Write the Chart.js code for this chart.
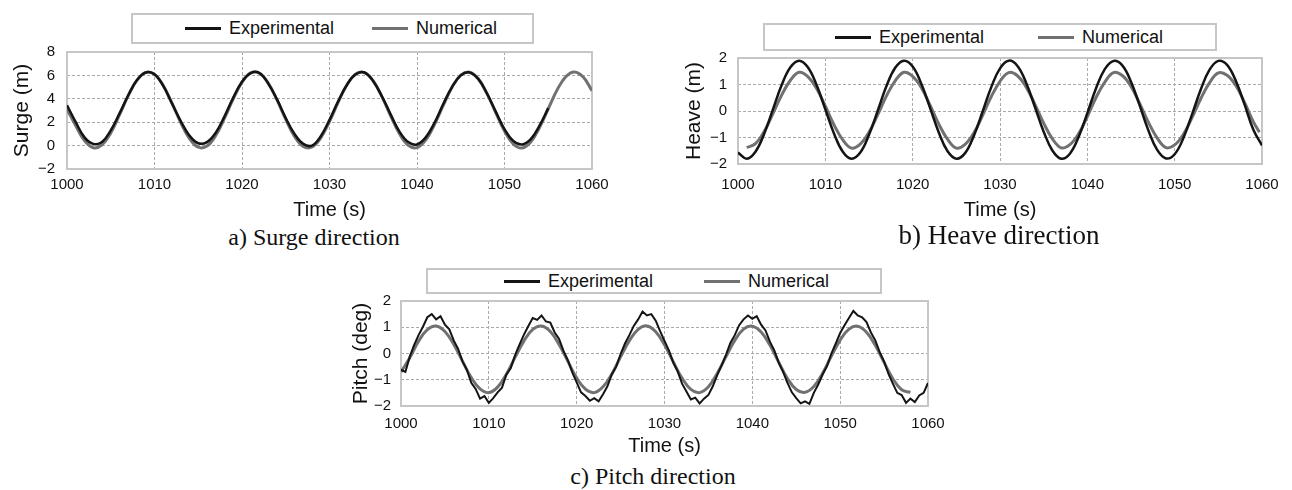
<!DOCTYPE html>
<html>
<head>
<meta charset="utf-8">
<script src="https://cdn.jsdelivr.net/npm/chart.js@4.4.1/dist/chart.umd.min.js"></script>
<style>
  body { margin: 0; background: #fff; width: 1292px; height: 490px; position: relative; overflow: hidden;
         font-family: 'Liberation Sans', Arial, sans-serif; color: #111; }
  canvas { position: absolute; }
  .legend { position: absolute; box-sizing: border-box; border: 2px solid #c6c6c6; background: #fff; font-size: 18px; }
  .legend .item { position: absolute; top: 0; bottom: 0; display: flex; align-items: center; white-space: nowrap; }
  .legend .swatch { display: inline-block; width: 36px; height: 3px; margin-right: 8px; }
  .caption { position: absolute; font-family: 'Liberation Serif', 'Times New Roman', serif; font-size: 24px;
             line-height: 24px; white-space: nowrap; transform: translateX(-50%); }
</style>
</head>
<body>
<canvas id="surgeChart" width="620" height="184" style="left:0;top:40px"></canvas>
<canvas id="heaveChart" width="630" height="184" style="left:660px;top:40px"></canvas>
<canvas id="pitchChart" width="626" height="170" style="left:330px;top:290px"></canvas>

<div class="legend" id="surgeLegend" style="left:131px;top:13px;width:403px;height:31px"></div>
<div class="legend" id="heaveLegend" style="left:763px;top:23px;width:454px;height:28px"></div>
<div class="legend" id="pitchLegend" style="left:426px;top:268px;width:456px;height:26px"></div>

<div class="caption" style="left:314px;top:225px">a) Surge direction</div>
<div class="caption" style="left:999px;top:222px;font-size:27px;line-height:27px">b) Heave direction</div>
<div class="caption" style="left:653px;top:464px">c) Pitch direction</div>

<script>
// axis ticks
const timeTicks = [1000, 1010, 1020, 1030, 1040, 1050, 1060];
const surgeTicks = [-2, 0, 2, 4, 6, 8];
const heaveTicks = [-2, -1, 0, 1, 2];
const pitchTicks = [-2, -1, 0, 1, 2];

// Surge (m), sampled every 1 s
const surgeExpStart = 1000;
const surgeExp = [3.45, 2.0, 0.7, 0.15, 0.3, 1.3, 2.75, 4.3, 5.6, 6.25,
  6.1, 5.1, 3.6, 2.1, 0.85, 0.2, 0.3, 1.1, 2.5, 4.1,
  5.45, 6.2, 6.2, 5.3, 3.95, 2.35, 1.0, 0.15, 0.0, 0.8,
  2.2, 3.8, 5.2, 6.1, 6.25, 5.5, 4.2, 2.65, 1.2, 0.3,
  0.1, 0.7, 1.95, 3.55, 5.0, 6.0, 6.25, 5.7, 4.45, 2.9,
  1.4, 0.4, 0.1, 0.55, 1.7, 3.2];
const surgeNumStart = 1000;
const surgeNum = [3.1, 1.70, 0.42, -0.18, 0.06, 1.08, 2.62, 4.27, 5.59, 6.26,
  6.09, 5.13, 3.62, 1.97, 0.60, -0.14, -0.04, 0.87, 2.34, 4.00,
  5.41, 6.21, 6.18, 5.34, 3.90, 2.24, 0.79, -0.07, -0.12, 0.66,
  2.06, 3.72, 5.20, 6.12, 6.24, 5.53, 4.17, 2.52, 1.01, 0.03,
  -0.17, 0.48, 1.80, 3.43, 4.98, 6.02, 6.28, 5.71, 4.44, 2.81,
  1.24, 0.14, -0.20, 0.31, 1.54, 3.15, 4.74, 5.89, 6.30, 5.86, 4.69];

// Heave (m), sampled every 1 s
const heaveExpStart = 1000;
const heaveExp = [-1.57, -1.80, -1.54, -0.86, 0.06, 0.98, 1.65, 1.90, 1.65, 0.98,
  0.06, -0.86, -1.54, -1.80, -1.57, -0.90, 0.01, 0.94, 1.63, 1.90,
  1.68, 1.02, 0.11, -0.82, -1.52, -1.80, -1.59, -0.94, -0.03, 0.90,
  1.61, 1.90, 1.70, 1.06, 0.15, -0.78, -1.49, -1.80, -1.61, -0.98,
  -0.08, 0.86, 1.58, 1.89, 1.72, 1.10, 0.20, -0.74, -1.47, -1.79,
  -1.63, -1.02, -0.12, 0.82, 1.56, 1.89, 1.74, 1.14, 0.25, -0.70, -1.30];
const heaveNumStart = 1001;
const heaveNum = [-1.38, -1.23, -0.77, -0.10, 0.60, 1.16, 1.46, 1.30, 0.85, 0.18,
  -0.53, -1.09, -1.40, -1.25, -0.80, -0.14, 0.57, 1.14, 1.46, 1.31,
  0.88, 0.21, -0.50, -1.07, -1.40, -1.26, -0.83, -0.17, 0.54, 1.12,
  1.45, 1.33, 0.90, 0.25, -0.46, -1.05, -1.39, -1.27, -0.86, -0.21,
  0.51, 1.09, 1.45, 1.34, 0.93, 0.28, -0.43, -1.02, -1.38, -1.28,
  -0.88, -0.24, 0.47, 1.07, 1.44, 1.35, 0.96, 0.32, -0.40];
const heaveNumEnd = { x: 1059.7, y: -0.80 };

// Pitch (deg): experimental every 0.5 s, numerical every 1 s
const pitchExpStart = 1000;
const pitchExp = [-0.62, -0.70, -0.12, 0.33, 0.70, 1.02, 1.38, 1.50, 1.30, 1.42,
  1.10, 0.92, 0.50, 0.18, -0.30, -0.62, -1.12, -1.35, -1.72, -1.62,
  -1.88, -1.70, -1.48, -1.30, -0.80, -0.55, -0.05, 0.35, 0.72, 1.05,
  1.35, 1.28, 1.45, 1.22, 1.18, 0.80, 0.55, 0.10, -0.25, -0.72,
  -1.10, -1.48, -1.62, -1.80, -1.70, -1.82, -1.55, -1.25, -0.80, -0.50,
  -0.02, 0.38, 0.70, 1.05, 1.30, 1.60, 1.45, 1.50, 1.25, 0.85,
  0.48, 0.12, -0.35, -0.68, -1.15, -1.45, -1.75, -1.68, -1.90, -1.72,
  -1.58, -1.25, -0.82, -0.45, -0.05, 0.40, 0.70, 1.08, 1.30, 1.45,
  1.32, 1.42, 1.10, 0.88, 0.45, 0.12, -0.35, -0.70, -1.12, -1.48,
  -1.70, -1.90, -1.82, -1.92, -1.50, -1.18, -0.80, -0.48, 0.00, 0.38,
  0.78, 1.08, 1.35, 1.62, 1.45, 1.38, 1.20, 0.80, 0.50, 0.05,
  -0.30, -0.78, -1.15, -1.50, -1.58, -1.88, -1.72, -1.85, -1.60, -1.50,
  -1.12];
const pitchNumStart = 1000;
const pitchNum = [-0.70, -0.16, 0.47, 0.91, 1.05, 0.84, 0.35, -0.29, -0.92, -1.35,
  -1.49, -1.28, -0.79, -0.14, 0.48, 0.92, 1.05, 0.84, 0.34, -0.30,
  -0.93, -1.36, -1.49, -1.27, -0.78, -0.13, 0.49, 0.92, 1.05, 0.83,
  0.33, -0.32, -0.94, -1.37, -1.49, -1.27, -0.76, -0.12, 0.50, 0.93,
  1.04, 0.82, 0.32, -0.33, -0.95, -1.37, -1.48, -1.26, -0.75, -0.10,
  0.51, 0.93, 1.04, 0.81, 0.31, -0.34, -0.96, -1.38, -1.48];

const EXP_COLOR = '#141414';
const NUM_COLOR = '#717171';
const GRID_COLOR = '#a9a9a9';

Chart.defaults.font.family = "'Liberation Sans', Arial, sans-serif";
Chart.defaults.color = '#111';

// pair each value with its sample time
function points(start, step, values) {
  return values.map((y, i) => ({ x: Math.round((start + i * step) * 100) / 100, y }));
}

// solid light frame around the plot area
const framePlugin = {
  id: 'frame',
  beforeDatasetsDraw(chart) {
    const { ctx, chartArea: a } = chart;
    ctx.save();
    ctx.strokeStyle = '#c6c6c6';
    ctx.lineWidth = 2;
    ctx.strokeRect(a.left, a.top, a.right - a.left, a.bottom - a.top);
    ctx.restore();
  }
};

function makeChart(id, cfg) {
  const ctx = document.getElementById(id).getContext('2d');
  return new Chart(ctx, {
    type: 'line',
    data: {
      datasets: [
        {
          label: 'Experimental',
          data: cfg.exp,
          borderColor: EXP_COLOR,
          borderWidth: cfg.expWidth,
          tension: cfg.expTension,
          pointRadius: 0,
          order: 0
        },
        {
          label: 'Numerical',
          data: cfg.num,
          borderColor: NUM_COLOR,
          borderWidth: 3,
          tension: 0.4,
          pointRadius: 0,
          order: 1
        }
      ]
    },
    options: {
      responsive: false,
      animation: false,
      layout: { padding: { top: cfg.padTop, right: 28, left: 0, bottom: 0 } },
      plugins: {
        legend: { display: false },
        tooltip: { enabled: false }
      },
      scales: {
        x: {
          type: 'linear',
          min: 1000,
          max: 1060,
          afterBuildTicks: s => { s.ticks = timeTicks.map(v => ({ value: v })); },
          afterFit: s => { s.height = cfg.xHeight; s.paddingLeft = 0; s.paddingRight = 0; },
          grid: { color: GRID_COLOR, lineWidth: 1, drawTicks: false },
          border: { display: false, dash: [3, 2] },
          ticks: { padding: cfg.xTickPad, maxRotation: 0, autoSkip: false, font: { size: 15 },
                   callback: v => String(v) },
          title: { display: true, text: 'Time (s)', font: { size: 20 }, padding: { top: 0, bottom: 2 } }
        },
        y: {
          min: cfg.yTicks[0],
          max: cfg.yTicks[cfg.yTicks.length - 1],
          afterBuildTicks: s => { s.ticks = cfg.yTicks.map(v => ({ value: v })); },
          afterFit: s => { s.width = cfg.yWidth; s.paddingTop = 0; s.paddingBottom = 0; },
          grid: { color: GRID_COLOR, lineWidth: 1, drawTicks: false },
          border: { display: false, dash: [3, 2] },
          ticks: {
            padding: cfg.yTickPad,
            font: { size: 15 },
            callback: v => String(v).replace('-', '\u2212')
          },
          title: { display: true, text: cfg.yTitle, font: { size: 21 }, padding: { top: cfg.yTitlePad, bottom: 0 } }
        }
      }
    },
    plugins: [framePlugin]
  });
}

// html legend built from the chart datasets
function buildLegend(chart, id, offsets) {
  const box = document.getElementById(id);
  chart.data.datasets.forEach((ds, i) => {
    const item = document.createElement('div');
    item.className = 'item';
    item.style.left = offsets[i] + 'px';
    const sw = document.createElement('span');
    sw.className = 'swatch';
    sw.style.background = ds.borderColor;
    item.appendChild(sw);
    item.appendChild(document.createTextNode(ds.label));
    box.appendChild(item);
  });
}

const surgeChart = makeChart('surgeChart', {
  exp: points(surgeExpStart, 1, surgeExp),
  num: points(surgeNumStart, 1, surgeNum),
  expTension: 0.4, expWidth: 2.5,
  yTicks: surgeTicks, yTitle: 'Surge (m)',
  padTop: 12, xHeight: 55, yWidth: 67,
  xTickPad: 7, yTickPad: 12, yTitlePad: 10
});

const heaveChart = makeChart('heaveChart', {
  exp: points(heaveExpStart, 1, heaveExp),
  num: points(heaveNumStart, 1, heaveNum).concat([heaveNumEnd]),
  expTension: 0.4, expWidth: 2.5,
  yTicks: heaveTicks, yTitle: 'Heave (m)',
  padTop: 18, xHeight: 60, yWidth: 78,
  xTickPad: 12, yTickPad: 11, yTitlePad: 22
});

const pitchChart = makeChart('pitchChart', {
  exp: points(pitchExpStart, 0.5, pitchExp),
  num: points(pitchNumStart, 1, pitchNum),
  expTension: 0, expWidth: 2,
  yTicks: pitchTicks, yTitle: 'Pitch (deg)',
  padTop: 11, xHeight: 54, yWidth: 71,
  xTickPad: 9, yTickPad: 10, yTitlePad: 19
});

buildLegend(surgeChart, 'surgeLegend', [52, 239]);
buildLegend(heaveChart, 'heaveLegend', [70, 273]);
buildLegend(pitchChart, 'pitchLegend', [76, 276]);
</script>
</body>
</html>
